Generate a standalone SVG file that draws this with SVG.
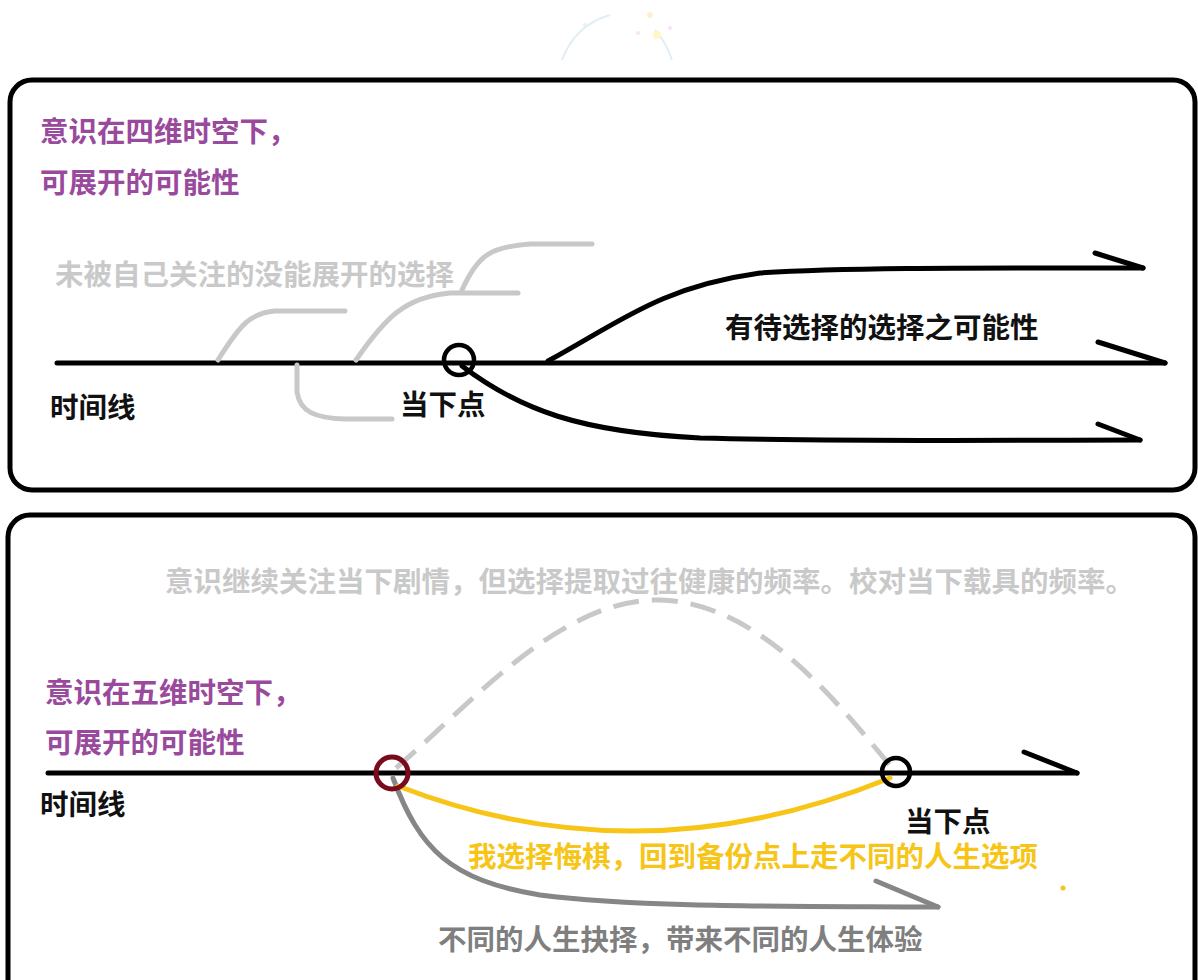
<svg xmlns="http://www.w3.org/2000/svg" width="1198" height="980" viewBox="0 0 1198 980">
<style>
text{font-family:"Liberation Sans","Noto Sans CJK SC",sans-serif;font-weight:bold;font-size:28.5px}
.purple{fill:#9a4a9c}
.blk{fill:#111}
.lgray{fill:#c9c9c9}
.dgray{fill:#7f7f7f}
.yel{fill:#f6c517}
.panel{fill:#fff;stroke:#000;stroke-width:5}
.line{fill:none;stroke:#000;stroke-width:5;stroke-linecap:round}
.ghost{fill:none;stroke:#c8c8c8;stroke-width:5;stroke-linecap:round}
.dash{fill:none;stroke:#c8c8c8;stroke-width:5;stroke-dasharray:26 13}
.ybranch{fill:none;stroke:#f6c517;stroke-width:5;stroke-linecap:round}
.gbranch{fill:none;stroke:#868686;stroke-width:5;stroke-linecap:round}
</style>
<rect width="1198" height="980" fill="#fff"/>
<g id="decoration" opacity="0.6">
<path d="M562,60 Q575,25 610,15" fill="none" stroke="#cfe3ee" stroke-width="2"/>
<path d="M672,60 Q665,40 655,30" fill="none" stroke="#cfe3ee" stroke-width="2"/>
<circle cx="657" cy="35" r="4" fill="#fff3a0"/>
<circle cx="650" cy="15" r="3" fill="#fde6b0"/>
<circle cx="638" cy="33" r="2" fill="#f9d0ee"/>
<circle cx="670" cy="28" r="2" fill="#f9d0ee"/>
<circle cx="585" cy="25" r="2" fill="#cfeaf5"/>
</g>
<g id="panel-4d">
<rect class="panel" x="10" y="80" width="1185" height="410" rx="22"/>
</g>
<g id="panel-5d">
<rect class="panel" x="8" y="515" width="1187" height="500" rx="22"/>
</g>
<g id="connectors">
<path class="line" d="M57,363 H1165"/>
<path class="line" d="M1098,342 L1165,363"/>
<path class="line" d="M548,361 C620,322 660,287 760,273 C850,267 1000,268 1143,268"/>
<path class="line" d="M1095,253 L1143,268"/>
<path class="line" d="M462,366 C520,410 580,432 700,438 C850,442 1000,440 1140,440"/>
<path class="line" d="M1098,424 L1140,440"/>
<path class="ghost" d="M218,360 C240,325 250,313 275,311 H345"/>
<path class="ghost" d="M356,360 C385,318 405,297 450,293 H518"/>
<path class="ghost" d="M462,290 C478,255 490,247 530,244 H592"/>
<path class="ghost" d="M297,365 V392 C300,412 315,418 345,419 H392"/>
<path class="line" d="M48,773 H1077"/>
<path class="line" d="M1024,752 L1077,773"/>
<path class="dash" d="M396,768 C470,705 560,598 660,600 C760,603 835,700 894,770"/>
<path class="gbranch" d="M393,778 C420,850 450,880 540,895 C640,908 800,906 938,907"/>
<path class="gbranch" d="M876,881 L938,907"/>
<path class="ybranch" d="M398,786 Q640,880 890,778"/>
<circle cx="1063" cy="888" r="2.5" fill="#f6c517"/>
</g>
<g id="node-now-4d">
<circle cx="459" cy="360" r="15" fill="none" stroke="#000" stroke-width="4.5"/>
</g>
<g id="node-backup">
<circle cx="392" cy="773" r="16" fill="none" stroke="#7a0a1c" stroke-width="5"/>
</g>
<g id="node-now-5d">
<circle cx="896" cy="772" r="14" fill="none" stroke="#000" stroke-width="4.5"/>
</g>
<g id="labels-4d">
<text class="purple" x="40" y="142">意识在四维时空下，</text>
<text class="purple" x="40" y="193">可展开的可能性</text>
<text class="lgray" x="55" y="285">未被自己关注的没能展开的选择</text>
<text class="blk" x="725" y="338">有待选择的选择之可能性</text>
<text class="blk" x="50" y="418">时间线</text>
<text class="blk" x="400" y="415">当下点</text>
</g>
<g id="labels-5d">
<text class="lgray" x="165" y="592">意识继续关注当下剧情，但选择提取过往健康的频率。校对当下载具的频率。</text>
<text class="purple" x="45" y="703">意识在五维时空下，</text>
<text class="purple" x="45" y="753">可展开的可能性</text>
<text class="blk" x="40" y="815">时间线</text>
<text class="blk" x="905" y="832">当下点</text>
<text class="yel" x="468" y="867">我选择悔棋，回到备份点上走不同的人生选项</text>
<text class="dgray" x="438" y="950">不同的人生抉择，带来不同的人生体验</text>
</g>
</svg>
